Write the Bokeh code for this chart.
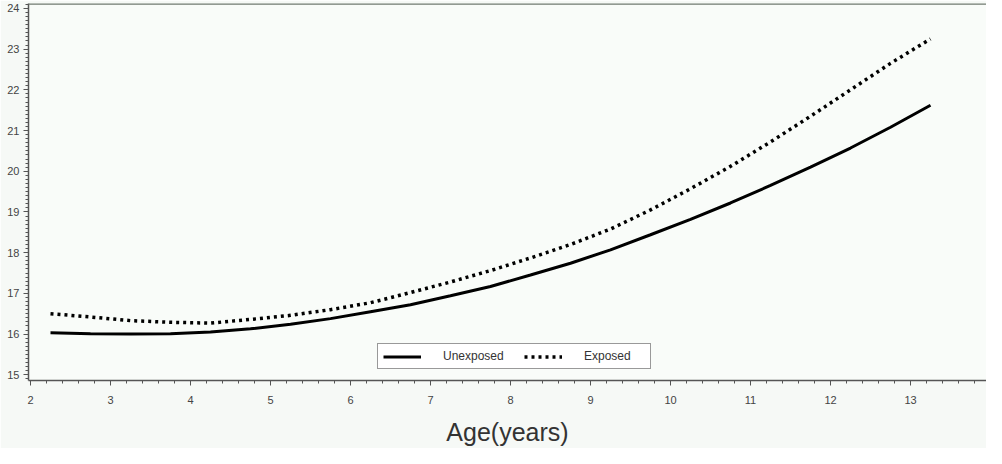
from bokeh.plotting import figure
from bokeh.models import Range1d, Span, SingleIntervalTicker, Legend, LegendItem
from bokeh.embed import file_html
from bokeh.resources import INLINE

# Data
age = [2.25, 2.75, 3.25, 3.75, 4.25, 4.75, 5.25, 5.75, 6.25, 6.75, 7.25, 7.75,
       8.25, 8.75, 9.25, 9.75, 10.25, 10.75, 11.25, 11.75, 12.25, 12.75, 13.25]
unexposed = [16.03, 16.01, 16.00, 16.01, 16.05, 16.13, 16.24, 16.38, 16.55, 16.72, 16.94, 17.17,
             17.45, 17.74, 18.07, 18.44, 18.82, 19.22, 19.65, 20.10, 20.57, 21.08, 21.62]
exposed = [16.50, 16.42, 16.33, 16.29, 16.27, 16.36, 16.46, 16.60, 16.77, 17.02, 17.28, 17.56,
           17.87, 18.20, 18.58, 19.05, 19.57, 20.12, 20.72, 21.35, 22.00, 22.65, 23.25]
series_labels = ["Unexposed", "Exposed"]
x_title = "Age(years)"

FONT = "Liberation Sans"

p = figure(width=986, height=448, output_backend="svg", toolbar_location=None,
           x_range=Range1d(1.975, 13.95), y_range=Range1d(14.86, 24.12),
           min_border_left=28, min_border_right=0, min_border_top=3, min_border_bottom=0)
p.background_fill_color = "#f9fcf9"
p.border_fill_color = "#f6f9f6"
p.outline_line_color = None
p.xgrid.visible = False
p.ygrid.visible = False

r1 = p.line(age, unexposed, line_color="black", line_width=3)
r2 = p.line(age, exposed, line_color="black", line_width=3.5, line_dash="3 4")

# top frame line
p.add_layout(Span(location=24.115, dimension="width", line_color="#6f7a6f", line_width=2))

for ax in (p.xaxis[0], p.yaxis[0]):
    ax.axis_line_color = "#555555"
    ax.axis_line_width = 1.5
    ax.major_tick_line_color = "#555555"
    ax.minor_tick_line_color = "#555555"
    ax.major_tick_out = 5
    ax.major_tick_in = 0
    ax.minor_tick_out = 3
    ax.minor_tick_in = 0
    ax.major_label_text_font = FONT
    ax.major_label_text_font_size = "11px"
    ax.major_label_text_color = "#444444"

p.xaxis[0].ticker = SingleIntervalTicker(interval=1, num_minor_ticks=5)
p.yaxis[0].ticker = SingleIntervalTicker(interval=1, num_minor_ticks=10)
p.xaxis[0].major_label_standoff = 10
p.yaxis[0].major_label_standoff = 4
p.xaxis[0].axis_label = x_title
p.xaxis[0].axis_label_text_font = FONT
p.xaxis[0].axis_label_text_font_size = "25px"
p.xaxis[0].axis_label_text_font_style = "normal"
p.xaxis[0].axis_label_text_color = "#333333"
p.xaxis[0].axis_label_standoff = 11

legend = Legend(items=[LegendItem(label=series_labels[0], renderers=[r1]),
                       LegendItem(label=series_labels[1], renderers=[r2])],
                orientation="horizontal", location=(349, 11))
legend.label_text_font = FONT
legend.label_text_font_size = "12px"
legend.label_text_color = "#333333"
legend.glyph_width = 38
legend.glyph_height = 13
legend.label_height = 13
legend.label_standoff = 22
legend.label_width = 61
legend.spacing = 20
legend.padding = 5
legend.margin = 0
legend.border_line_color = "#333333"
legend.border_line_width = 1
legend.background_fill_color = "white"
legend.background_fill_alpha = 1
p.add_layout(legend, "center")

open("out.html", "w").write(file_html(p, INLINE))
